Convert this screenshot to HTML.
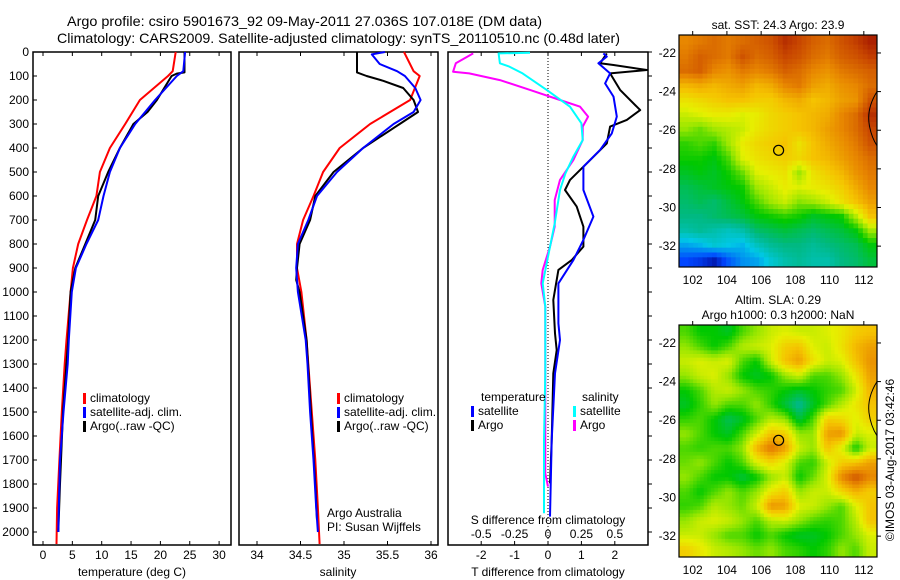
<!DOCTYPE html>
<html><head><meta charset="utf-8"><style>
html,body{margin:0;padding:0;background:#fff;}
svg{display:block;font-family:"Liberation Sans",sans-serif;}
text{fill:#000;}
</style></head><body>
<svg id="fig" width="900" height="580" viewBox="0 0 900 580" xmlns="http://www.w3.org/2000/svg">
<text x="67" y="26" font-size="14" textLength="475" lengthAdjust="spacingAndGlyphs">Argo profile: csiro 5901673_92 09-May-2011 27.036S 107.018E (DM data)</text>
<text x="57" y="43" font-size="14" textLength="563" lengthAdjust="spacingAndGlyphs">Climatology: CARS2009. Satellite-adjusted climatology: synTS_20110510.nc (0.48d later)</text>
<g id="g1"></g>
<g id="g2"></g>
<g id="g3"></g>
<g id="m1"></g>
<g id="m2"></g>
<text transform="translate(894,460) rotate(-90)" text-anchor="middle" font-size="12">©IMOS 03-Aug-2017 03:42:46</text>
</svg>
<script>
// ---- data ----
const depthTicks=[0,100,200,300,400,500,600,700,800,900,1000,1100,1200,1300,1400,1500,1600,1700,1800,1900,2000];
const tempTicks=[0,5,10,15,20,25,30];
const salTicks=[34,34.5,35,35.5,36];
const dTTicks=[-2,-1,0,1,2];
const dSTicks=[-0.5,-0.25,0,0.25,0.5];
const dSTickLabels=["-0.5","-0.25","0","0.25","0.5"];

const climDepth=[0,80,100,200,300,400,500,600,700,800,900,1000,1200,1300,1500,1700,1900,2050];
const climTemp=[22.6,22.1,21.3,16.5,14,11.4,9.7,9.1,7.5,6,5.1,4.7,4.0,3.7,3.2,2.8,2.4,2.3];
const climSal=[35.69,35.80,35.87,35.76,35.30,34.95,34.76,34.65,34.53,34.46,34.46,34.51,34.57,34.59,34.63,34.67,34.70,34.72];

const satDepth=[0,80,100,200,300,400,500,600,700,800,900,1000,1200,1300,1500,1700,1900,2000];
const satTemp=[24.2,23.9,22.8,19.1,15.7,13.1,11.4,10.3,9.4,7.4,5.6,4.9,4.4,4.2,3.5,2.9,2.7,2.6];
const satSalDepth=[0,10,50,80,100,150,200,250,300,400,500,600,700,800,900,1000,1200,1300,1500,1700,1900,2000];
const satSal=[35.47,35.32,35.41,35.61,35.70,35.82,35.88,35.80,35.57,35.22,34.92,34.69,34.59,34.47,34.45,34.47,34.56,34.58,34.61,34.65,34.68,34.70];

const argoDepth=[0,85,90,100,200,250,300,400,500,600,700,800,900,1000,1200,1500,1800,2000];
const argoTemp=[24.1,24.1,22.8,21.9,19.4,17.8,15.4,13.1,11.1,9.4,8.9,7.2,5.5,4.7,4.3,3.4,2.9,2.6];
const argoSalDepth=[0,85,100,120,150,200,250,300,400,500,600,700,800,900,950,1000,1200,1500,1800,1950];
const argoSal=[35.15,35.15,35.26,35.45,35.68,35.80,35.85,35.64,35.22,34.88,34.67,34.61,34.49,34.46,34.45,34.49,34.57,34.62,34.67,34.69];

const dTsatDepth=[6,19,47,89,131,186,269,339,408,478,575,686,783,867,964,1131,1200,1339,1617,1936];
const dTsat=[1.66,1.76,1.51,1.86,1.71,1.96,2.06,1.91,1.56,1.06,1.06,1.36,1.06,0.76,0.31,0.31,0.36,0.21,0.11,0.06];
const dTargoDepth=[6,47,54,75,89,158,228,242,283,311,381,464,533,575,644,728,811,867,908,1033,1172,1242,1339,1617,1797];
const dTargo=[1.76,1.56,1.96,2.96,1.86,2.16,2.66,2.76,2.36,1.86,1.76,1.16,0.66,0.51,0.86,1.06,1.06,0.71,0.31,0.16,0.21,0.26,0.16,0.11,0.06];
const dSsatDepth=[3,6,47,61,89,158,228,297,367,436,506,575,714,853,964,1061,1339,1617,1922];
const dSsat=[-0.135,-0.37,-0.36,-0.29,-0.19,-0.01,0.165,0.25,0.26,0.19,0.13,0.09,0.05,0,-0.04,-0.02,-0.02,-0.03,-0.03];
const dSargoDepth=[6,47,82,89,117,158,200,228,269,311,367,450,533,617,728,811,908,964,1061,1339,1756,1811];
const dSargo=[-0.56,-0.69,-0.71,-0.59,-0.36,-0.135,0.09,0.24,0.30,0.26,0.26,0.19,0.09,0.05,0.05,0.015,-0.04,-0.05,-0.02,-0.02,-0.02,0];

const sstGrid=[
[.82,.84,.86,.84,.86,.88,.90,.95,.92,.88,.86,.90,.93,.97],
[.84,.88,.86,.84,.90,.86,.88,.92,.90,.86,.84,.88,.90,.93],
[.86,.88,.82,.80,.84,.82,.84,.88,.86,.82,.80,.84,.86,.88],
[.74,.76,.74,.76,.78,.74,.76,.82,.84,.78,.76,.80,.82,.86],
[.66,.68,.70,.72,.72,.70,.70,.74,.76,.72,.74,.78,.80,.90],
[.60,.62,.64,.64,.62,.64,.68,.70,.72,.74,.76,.82,.86,.95],
[.55,.52,.56,.58,.60,.65,.68,.70,.72,.74,.78,.82,.86,.92],
[.48,.50,.48,.56,.64,.68,.70,.72,.66,.72,.76,.80,.84,.90],
[.46,.46,.44,.50,.62,.66,.68,.70,.68,.72,.74,.78,.82,.86],
[.42,.44,.42,.46,.52,.62,.64,.66,.56,.66,.70,.74,.80,.84],
[.38,.40,.42,.44,.46,.56,.60,.64,.62,.64,.66,.70,.76,.82],
[.36,.38,.36,.40,.44,.50,.56,.60,.54,.56,.60,.66,.72,.78],
[.34,.34,.36,.38,.40,.44,.46,.48,.46,.42,.44,.46,.58,.72],
[.30,.32,.30,.28,.30,.36,.38,.40,.38,.36,.38,.40,.44,.56],
[.20,.22,.26,.24,.22,.28,.32,.34,.34,.32,.34,.36,.38,.44],
[.10,.08,.04,.12,.18,.20,.26,.30,.32,.30,.30,.34,.36,.40]];
const slaGrid=[
[.50,.45,.45,.42,.50,.55,.60,.62,.60,.60,.62,.65,.70,.72],
[.55,.50,.45,.50,.58,.60,.62,.70,.72,.62,.60,.66,.74,.78],
[.60,.62,.60,.62,.50,.45,.60,.72,.78,.66,.60,.62,.72,.80],
[.55,.60,.62,.55,.45,.42,.45,.55,.60,.50,.50,.55,.65,.78],
[.45,.50,.58,.60,.55,.50,.48,.45,.42,.45,.48,.50,.60,.75],
[.42,.48,.55,.50,.50,.55,.48,.40,.32,.42,.50,.58,.65,.72],
[.48,.50,.45,.38,.42,.50,.58,.55,.40,.50,.70,.68,.62,.70],
[.55,.50,.45,.42,.50,.60,.72,.70,.55,.55,.78,.80,.60,.62],
[.50,.48,.50,.50,.55,.75,.85,.78,.60,.55,.72,.62,.45,.60],
[.52,.55,.50,.45,.50,.62,.68,.62,.50,.48,.60,.70,.72,.78],
[.55,.50,.45,.45,.40,.45,.55,.60,.45,.52,.62,.82,.90,.82],
[.50,.45,.50,.55,.50,.55,.65,.70,.55,.60,.60,.68,.75,.70],
[.48,.50,.58,.55,.52,.60,.80,.78,.62,.60,.55,.50,.62,.72],
[.55,.60,.62,.60,.55,.50,.58,.60,.55,.50,.48,.50,.58,.72],
[.60,.60,.55,.50,.50,.45,.50,.45,.42,.42,.45,.50,.55,.62],
[.70,.65,.60,.58,.55,.52,.55,.50,.48,.45,.48,.55,.50,.60]];
const lonTicks=[102,104,106,108,110,112];
const latTicks=[22,24,26,28,30,32];
const argoLon=[107.02];
const argoLat=[27.04];

// ---- helpers ----
const NS="http://www.w3.org/2000/svg";
function mk(parent,tag,attrs,txt){const e=document.createElementNS(NS,tag);for(const k in attrs)e.setAttribute(k,attrs[k]);if(txt!==undefined)e.textContent=txt;parent.appendChild(e);return e;}
const yD=d=>52+0.24*d;
function line(p,name,xs,ds,fx,col,w){
  const pts=xs.map((v,i)=>fx(v).toFixed(1)+","+yD(ds[i]).toFixed(1)).join(" ");
  const e=mk(p,"polyline",{points:pts,fill:"none",stroke:col,"stroke-width":w||2,"stroke-linejoin":"round"});
  
  
}
function frame(p,x0,x1,showDepth,rightOut){
  const y0=52,y1=545;
  const r=mk(p,"rect",{x:x0,y:y0,width:x1-x0,height:y1-y0,fill:"none",stroke:"#000","stroke-width":1.5});
  
  
  depthTicks.forEach(d=>{
    const y=yD(d);
    if(showDepth){
      const t=mk(p,"text",{x:x0-4,y:y+4,"text-anchor":"end","font-size":12},String(d));
      
      
      mk(p,"line",{x1:x0,x2:x0+4,y1:y,y2:y,stroke:"#000"});
    }
    if(rightOut) mk(p,"line",{x1:x1,x2:x1+4,y1:y,y2:y,stroke:"#000"});
  });
}
function xticks(p,vals,labels,fx,ylab){
  vals.forEach((v,i)=>{const x=fx(v);
    mk(p,"line",{x1:x,x2:x,y1:52,y2:56,stroke:"#000"});
    mk(p,"line",{x1:x,x2:x,y1:545,y2:541,stroke:"#000"});
    const t=mk(p,"text",{x:x,y:ylab,"text-anchor":"middle","font-size":12},labels[i]);
    
    
  });
}
function legendEntry(p,x,y,col,label,name){
  mk(p,"rect",{x:x,y:y-9,width:3,height:11,fill:col});
  const t=mk(p,"text",{x:x+7,y:y,"font-size":12},label);
  
  
}

// ---- panel 1: temperature ----
const g1=document.getElementById("g1");
const fT=t=>43+5.87*t;
frame(g1,33,231,true,false);
xticks(g1,tempTicks,tempTicks.map(String),fT,559);
line(g1,"temp-climatology-line",climTemp,climDepth,fT,"#ff0000");
line(g1,"temp-argo-line",argoTemp,argoDepth,fT,"#000000");
line(g1,"temp-satellite-line",satTemp,satDepth,fT,"#0000ff");
let t=mk(g1,"text",{x:132,y:576,"text-anchor":"middle","font-size":12},"temperature (deg C)");

legendEntry(g1,83,402,"#ff0000","climatology","legend-climatology");
legendEntry(g1,83,416,"#0000ff","satellite-adj. clim.","legend-satellite");
legendEntry(g1,83,430,"#000000","Argo(..raw -QC)","legend-argo");

// ---- panel 2: salinity ----
const g2=document.getElementById("g2");
const fS=s=>257+87*(s-34);
frame(g2,239,438,false,false);
xticks(g2,salTicks,salTicks.map(String),fS,559);
line(g2,"sal-climatology-line",climSal,climDepth,fS,"#ff0000");
line(g2,"sal-argo-line",argoSal,argoSalDepth,fS,"#000000");
line(g2,"sal-satellite-line",satSal,satSalDepth,fS,"#0000ff");
t=mk(g2,"text",{x:338,y:576,"text-anchor":"middle","font-size":12},"salinity");

legendEntry(g2,337,402,"#ff0000","climatology","legend-climatology");
legendEntry(g2,337,416,"#0000ff","satellite-adj. clim.","legend-satellite");
legendEntry(g2,337,430,"#000000","Argo(..raw -QC)","legend-argo");
t=mk(g2,"text",{x:327,y:517,"font-size":12},"Argo Australia");

t=mk(g2,"text",{x:327,y:531,"font-size":12},"PI: Susan Wijffels");


// ---- panel 3: differences ----
const g3=document.getElementById("g3");
const fdT=v=>548+33.4*v;
const fdS=v=>548+133.6*v;
frame(g3,448,648,false,true);
mk(g3,"line",{x1:548,x2:548,y1:52,y2:545,stroke:"#000","stroke-dasharray":"1,2"});
xticks(g3,dTTicks,dTTicks.map(String),fdT,559);
dSTicks.forEach((v,i)=>{const tt=mk(g3,"text",{x:fdS(v),y:538,"text-anchor":"middle","font-size":12},dSTickLabels[i]);
  });
line(g3,"dsal-argo-line",dSargo,dSargoDepth,fdS,"#ff00ff");
line(g3,"dsal-satellite-line",dSsat,dSsatDepth,fdS,"#00ffff");
line(g3,"dtemp-argo-line",dTargo,dTargoDepth,fdT,"#000000");
line(g3,"dtemp-satellite-line",dTsat,dTsatDepth,fdT,"#0000ff");
t=mk(g3,"text",{x:548,y:524,"text-anchor":"middle","font-size":12},"S difference from climatology");

t=mk(g3,"text",{x:548,y:576,"text-anchor":"middle","font-size":12},"T difference from climatology");

t=mk(g3,"text",{x:481,y:401,"font-size":12},"temperature");

t=mk(g3,"text",{x:582,y:401,"font-size":12},"salinity");

legendEntry(g3,471,415,"#0000ff","satellite","legend-temp-satellite");
legendEntry(g3,471,429,"#000000","Argo","legend-temp-argo");
legendEntry(g3,573,415,"#00ffff","satellite","legend-sal-satellite");
legendEntry(g3,573,429,"#ff00ff","Argo","legend-sal-argo");

// ---- maps ----
const stops=[[0,[0,0,130]],[0.1,[0,70,255]],[0.24,[0,200,230]],[0.34,[0,185,130]],[0.45,[0,200,0]],[0.55,[150,230,0]],[0.63,[230,240,0]],[0.72,[245,195,0]],[0.82,[232,135,0]],[0.92,[200,70,0]],[1,[155,10,0]]];
function cmap(v){for(let i=1;i<stops.length;i++){if(v<=stops[i][0]){const a=stops[i-1],b=stops[i];const f=(v-a[0])/(b[0]-a[0]);
  const c=a[1].map((x,k)=>Math.round(x+(b[1][k]-x)*f));return "rgb("+c.join(",")+")";}}return "rgb(155,10,0)";}
function sample(grid,r,c){ // bilinear at fractional cell-centre coords
  const R=grid.length,C=grid[0].length;
  r=Math.max(0,Math.min(R-1,r));c=Math.max(0,Math.min(C-1,c));
  const r0=Math.floor(r),c0=Math.floor(c),r1=Math.min(R-1,r0+1),c1=Math.min(C-1,c0+1),fr=r-r0,fc=c-c0;
  return grid[r0][c0]*(1-fr)*(1-fc)+grid[r0][c1]*(1-fr)*fc+grid[r1][c0]*fr*(1-fc)+grid[r1][c1]*fr*fc;
}
function map(id,grid,top,titles,up){
  const g=document.getElementById(id);
  const x0=679,x1=877,y0=top,y1=top+232;
  const lonA=101.2,lonB=112.77,latA=21.07,latB=33.08;
  const fx=l=>x0+(l-lonA)/(lonB-lonA)*(x1-x0);
  const fy=l=>y0+(l-latA)/(latB-latA)*(y1-y0);
  const rows=grid.length*up,cols=grid[0].length*up,cw=(x1-x0)/cols,ch=(y1-y0)/rows;
  for(let r=0;r<rows;r++)for(let c=0;c<cols;c++){
    const v=sample(grid,(r+0.5)/up-0.5,(c+0.5)/up-0.5);
    const e=mk(g,"rect",{x:(x0+c*cw).toFixed(2),y:(y0+r*ch).toFixed(2),width:(cw+0.5).toFixed(2),height:(ch+0.5).toFixed(2),fill:cmap(v)});
    
    
  }
  const cs=mk(g,"path",{d:`M${x1},${fy(24)} Q${fx(112.2)},${fy(24.8)} ${fx(112.3)},${fy(25.6)} Q${fx(112.4)},${fy(26.3)} ${x1},${fy(26.8)}`,fill:"none",stroke:"#000","stroke-width":1});
  
  
  const f=mk(g,"rect",{x:x0,y:y0,width:x1-x0,height:y1-y0,fill:"none",stroke:"#000","stroke-width":1.2});
  
  
  lonTicks.forEach(l=>{const x=fx(l);
    mk(g,"line",{x1:x,x2:x,y1:y0-4,y2:y0,stroke:"#000"});
    const tt=mk(g,"text",{x:x,y:y1+17,"text-anchor":"middle","font-size":12},String(l));
    });
  latTicks.forEach(l=>{const y=fy(l);
    mk(g,"line",{x1:x1,x2:x1+4,y1:y,y2:y,stroke:"#000"});
    const tt=mk(g,"text",{x:x0-3,y:y+4,"text-anchor":"end","font-size":12},"-"+l);
    });
  const pc=mk(g,"circle",{cx:fx(argoLon[0]),cy:fy(argoLat[0]),r:5,fill:"none",stroke:"#000","stroke-width":1.2});
  
  
  titles.forEach((s,i)=>{const tt=mk(g,"text",{x:778,y:top-(titles.length-1-i)*15-6,"text-anchor":"middle","font-size":12},s);
    });
}
map("m1",sstGrid,35,["sat. SST: 24.3 Argo: 23.9"],3);
map("m2",slaGrid,325,["Altim. SLA: 0.29","Argo h1000: 0.3 h2000: NaN"],4);
</script>
</body></html>
